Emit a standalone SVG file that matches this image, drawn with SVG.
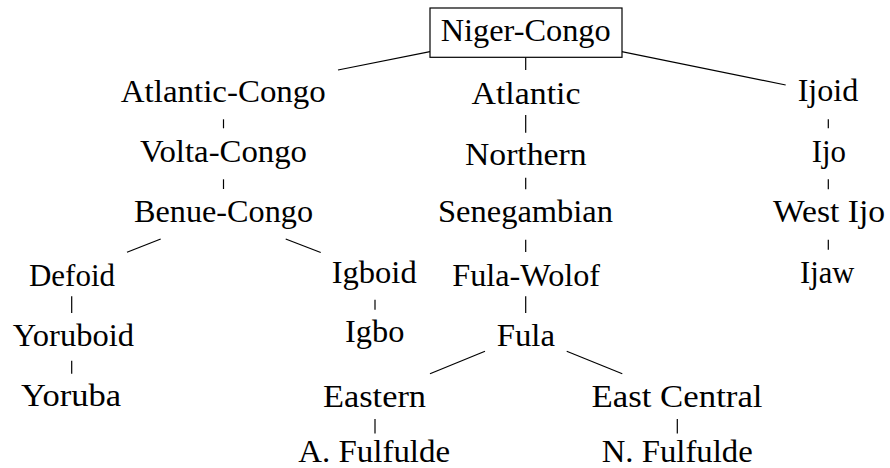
<svg xmlns="http://www.w3.org/2000/svg" width="890" height="468" viewBox="0 0 890 468">
<style>
text{font-family:"Liberation Serif","DejaVu Serif","Tinos","Noto Serif","FreeSerif","Times New Roman",Times,serif;font-size:32px;fill:#000;text-anchor:middle}
.e line{stroke:#000;stroke-width:1.2;fill:none}
.box{fill:#fff;stroke:#000;stroke-width:1.2}
</style>
<rect width="890" height="468" fill="#fff"/>
<g class="e" id="connectors">
<line x1="430" y1="51.7" x2="338" y2="70"/>
<line x1="525.7" y1="57.3" x2="525.7" y2="70"/>
<line x1="621.7" y1="51.7" x2="785.7" y2="85"/>
<line x1="223.5" y1="119.3" x2="223.5" y2="128.3"/>
<line x1="223.5" y1="179.3" x2="223.5" y2="189"/>
<line x1="160.7" y1="239" x2="127" y2="252.3"/>
<line x1="285.7" y1="239" x2="320.7" y2="252.5"/>
<line x1="71.7" y1="296.3" x2="71.7" y2="313"/>
<line x1="71.7" y1="360.7" x2="71.7" y2="373.7"/>
<line x1="375" y1="299.7" x2="375" y2="309.7"/>
<line x1="525.7" y1="115" x2="525.7" y2="132.7"/>
<line x1="525.7" y1="177.7" x2="525.7" y2="189.3"/>
<line x1="525.7" y1="239.7" x2="525.7" y2="252"/>
<line x1="525.7" y1="296.3" x2="525.7" y2="313"/>
<line x1="485" y1="351.3" x2="430" y2="373.7"/>
<line x1="566.7" y1="351.3" x2="622.3" y2="373.7"/>
<line x1="375" y1="419" x2="375" y2="433.5"/>
<line x1="677.3" y1="419" x2="677.3" y2="433.5"/>
<line x1="828.3" y1="119.3" x2="828.3" y2="128.3"/>
<line x1="828.3" y1="179.3" x2="828.3" y2="189.3"/>
<line x1="828.3" y1="239.7" x2="828.3" y2="249.7"/>
</g>
<g font-family="Liberation Serif, DejaVu Serif, serif">
<g id="niger-congo"><rect class="box" x="430" y="8" width="192" height="49.3"/><text x="525.7" y="41" textLength="170" lengthAdjust="spacingAndGlyphs">Niger-Congo</text></g>
<g id="atlantic-congo"><text x="223.3" y="101.7" textLength="205" lengthAdjust="spacingAndGlyphs">Atlantic-Congo</text></g>
<g id="atlantic"><text x="526" y="103.5" textLength="109" lengthAdjust="spacingAndGlyphs">Atlantic</text></g>
<g id="ijoid"><text x="828" y="101" textLength="60.6" lengthAdjust="spacingAndGlyphs">Ijoid</text></g>
<g id="volta-congo"><text x="223.5" y="162" textLength="167" lengthAdjust="spacingAndGlyphs">Volta-Congo</text></g>
<g id="northern"><text x="525.8" y="165" textLength="121.7" lengthAdjust="spacingAndGlyphs">Northern</text></g>
<g id="ijo"><text x="828.8" y="161.7" textLength="34.3" lengthAdjust="spacingAndGlyphs">Ijo</text></g>
<g id="benue-congo"><text x="223.5" y="221.7" textLength="179" lengthAdjust="spacingAndGlyphs">Benue-Congo</text></g>
<g id="senegambian"><text x="525.5" y="221.7" textLength="175" lengthAdjust="spacingAndGlyphs">Senegambian</text></g>
<g id="west-ijo"><text x="829" y="221.7" textLength="112" lengthAdjust="spacingAndGlyphs">West Ijo</text></g>
<g id="defoid"><text x="72" y="286" textLength="86" lengthAdjust="spacingAndGlyphs">Defoid</text></g>
<g id="igboid"><text x="374.2" y="282.7" textLength="85" lengthAdjust="spacingAndGlyphs">Igboid</text></g>
<g id="fula-wolof"><text x="526.2" y="286" textLength="147.7" lengthAdjust="spacingAndGlyphs">Fula-Wolof</text></g>
<g id="ijaw"><text x="827.2" y="283" textLength="54.3" lengthAdjust="spacingAndGlyphs">Ijaw</text></g>
<g id="yoruboid"><text x="73.3" y="345.5" textLength="121.3" lengthAdjust="spacingAndGlyphs">Yoruboid</text></g>
<g id="igbo"><text x="374.7" y="342" textLength="59.3" lengthAdjust="spacingAndGlyphs">Igbo</text></g>
<g id="fula"><text x="525.8" y="345.5" textLength="58.3" lengthAdjust="spacingAndGlyphs">Fula</text></g>
<g id="yoruba"><text x="71" y="406.3" textLength="100" lengthAdjust="spacingAndGlyphs">Yoruba</text></g>
<g id="eastern"><text x="374.5" y="406.5" textLength="103" lengthAdjust="spacingAndGlyphs">Eastern</text></g>
<g id="east-central"><text x="677" y="406.5" textLength="171" lengthAdjust="spacingAndGlyphs">East Central</text></g>
<g id="a-fulfulde"><text x="374.2" y="462" textLength="151.7" lengthAdjust="spacingAndGlyphs">A. Fulfulde</text></g>
<g id="n-fulfulde"><text x="677.2" y="462" textLength="151" lengthAdjust="spacingAndGlyphs">N. Fulfulde</text></g>
</g>
</svg>
